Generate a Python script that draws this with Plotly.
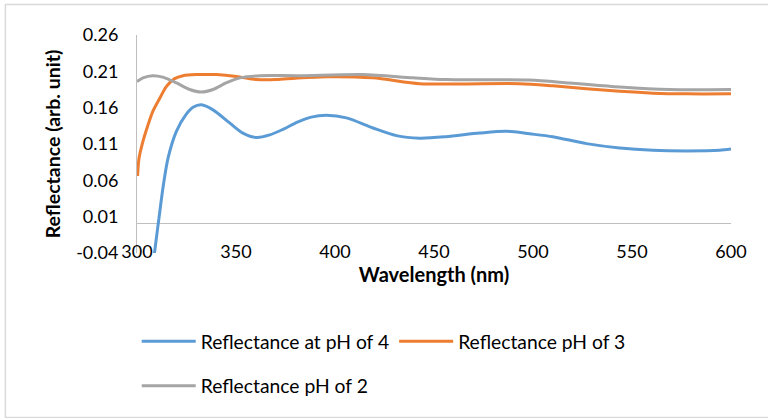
import plotly.graph_objects as go

# ---- data ----
wl_ph4 = [308.6, 309.8, 311.1, 313.1, 315.7, 319.9, 324.9, 328.3, 332.5, 338.4, 346.8, 353.5,
          360.3, 367, 374, 381, 388, 395.6, 405.8, 419.2, 431, 442.8, 456, 473, 486.6, 498.3,
          510, 527, 543.8, 560.6, 577.5, 594.3, 600]
refl_ph4 = [-0.045, -0.019, 0.008, 0.0495, 0.091, 0.1275, 0.151, 0.1605, 0.164, 0.157, 0.139, 0.125,
            0.119, 0.1225, 0.1305, 0.140, 0.147, 0.1495, 0.146, 0.132, 0.1215, 0.118, 0.12, 0.125,
            0.1275, 0.124, 0.12, 0.1105, 0.1045, 0.1013, 0.1005, 0.1013, 0.103]

wl_ph3 = [300.3, 301, 303, 305.6, 308, 311.5, 314.8, 319, 323.2, 330, 340, 350.2, 360.3, 370.4,
          380, 395.6, 419, 442.8, 464.6, 493.3, 510, 527, 543.8, 560.6, 577.5, 600]
refl_ph3 = [0.066, 0.09, 0.1137, 0.1366, 0.155, 0.173, 0.189, 0.200, 0.204, 0.2055, 0.2055, 0.203,
            0.1986, 0.1986, 0.2005, 0.2025, 0.201, 0.193, 0.1927, 0.193, 0.190, 0.186, 0.1825, 0.180,
            0.179, 0.179]

wl_ph2 = [300, 303, 308, 313, 320, 326.6, 332.5, 338.4, 345, 352, 362, 382, 414, 439.4, 456, 498,
          518.5, 543.8, 569, 600]
refl_ph2 = [0.196, 0.201, 0.204, 0.202, 0.194, 0.185, 0.1815, 0.185, 0.194, 0.201, 0.204, 0.204,
            0.2055, 0.201, 0.1986, 0.198, 0.194, 0.1885, 0.185, 0.185]

names = ["Reflectance at pH of 4", "Reflectance pH of 3", "Reflectance pH of 2"]
colors = ["#5B9BD5", "#ED7D31", "#A5A5A5"]

x_ticks = [300, 350, 400, 450, 500, 550, 600]
y_ticks = [-0.04, 0.01, 0.06, 0.11, 0.16, 0.21, 0.26]

FONT = "Lato"

fig = go.Figure()
series = [(wl_ph4, refl_ph4), (wl_ph3, refl_ph3), (wl_ph2, refl_ph2)]
legends = ["legend", "legend", "legend2"]
for (x, y), n, c, lg in zip(series, names, colors, legends):
    fig.add_trace(go.Scatter(x=x, y=y, mode="lines", name=n, legend=lg,
                             line=dict(color=c, width=3, shape="spline", smoothing=0.8)))

# plot area geometry (px)
L, R, T, B = 137.3, 731.3, 35.4, 253.0
W, H = 768, 418
pw, ph = R - L, B - T

def px(xp):
    return (xp - L) / pw

def py(yp):
    return (B - yp) / ph

fig.update_layout(
    width=W, height=H,
    margin=dict(l=L, r=W - R, t=T, b=H - B, pad=0, autoexpand=False),
    paper_bgcolor="white", plot_bgcolor="white",
    font=dict(family=FONT, size=18, color="#000000"),
    xaxis=dict(range=[300, 600], tickvals=x_ticks, ticktext=[str(v) for v in x_ticks],
               showgrid=False, zeroline=False, showline=False, ticks="",
               ticklabelstandoff=-14, automargin=False,
               title=dict(text="<b>Wavelength (nm)</b>", font=dict(size=20), standoff=0)),
    yaxis=dict(range=[-0.04, 0.26], tickvals=y_ticks, ticktext=[f"{v:.2f}" for v in y_ticks],
               showgrid=False, zeroline=True, zerolinecolor="#BFBFBF", zerolinewidth=1,
               showline=True, linecolor="#BFBFBF", linewidth=1, ticks="",
               ticklabelstandoff=14, automargin=False,
               title=dict(text="<b>Reflectance (arb. unit)</b>", font=dict(size=19.5), standoff=10)),
    legend=dict(orientation="h", x=px(137), y=py(322), xanchor="left", yanchor="top",
                itemwidth=54, font=dict(size=19.3), bgcolor="rgba(0,0,0,0)",
                tracegroupgap=0),
    legend2=dict(orientation="h", x=px(137), y=py(366.5), xanchor="left", yanchor="top",
                 itemwidth=54, font=dict(size=19.3), bgcolor="rgba(0,0,0,0)"),
    shapes=[dict(type="rect", xref="paper", yref="paper",
                 x0=px(5.7), x1=px(772), y0=py(417.3), y1=py(5),
                 line=dict(color="#D9D9D9", width=1.5), fillcolor="rgba(0,0,0,0)", layer="below")],
)

fig.write_html("out.html")
